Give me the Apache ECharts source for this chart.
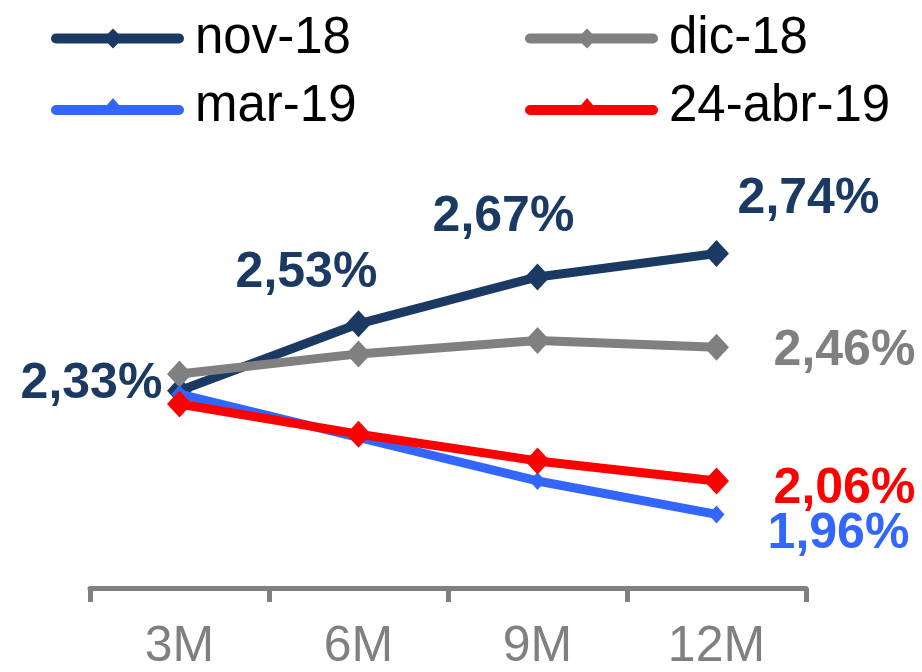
<!DOCTYPE html>
<html>
<head>
<meta charset="utf-8">
<style>
  html, body { margin: 0; padding: 0; background: #ffffff; }
  #chart { width: 922px; height: 672px; }
</style>
<script src="https://cdn.jsdelivr.net/npm/echarts@6/dist/echarts.min.js"></script>
</head>
<body>
<div id="chart"></div>
<script>
// Plazos y tipos (%)
const categories = ['3M', '6M', '9M', '12M'];
const seriesNames = ['nov-18', 'dic-18', 'mar-19', '24-abr-19'];
const nov18 = [2.33, 2.53, 2.67, 2.74];
const dic18 = [2.38, 2.44, 2.48, 2.46];
const mar19 = [2.32, 2.19, 2.06, 1.96];
const abr19 = [2.29, 2.20, 2.12, 2.06];

const FONT = "'Liberation Sans', Arial, sans-serif";
const colors = ['#1b3a63', '#808080', '#3366ff', '#ff0000'];

// legend icons: thick rounded line with a marker on it
const iconDiamond = 'path://M5,5 L57,5 L62,0 L67,5 L128,5 A5,5 0 0 1 128,15 L67,15 L62,20 L57,15 L5,15 A5,5 0 0 1 5,5 Z';
const iconTriangle = 'path://M5,7 L56,7 L62,0 L68,7 L128,7 A5,5 0 0 1 128,17 L5,17 A5,5 0 0 1 5,7 Z';

function fmt(v) {
  return v.toFixed(2).replace('.', ',') + '%';
}

// label offsets per labelled point (series index -> {dataIndex: [dx, dy]})
const labelOffsets = [
  { 0: [-88, -6], 1: [-52, -51], 2: [-34, -60], 3: [92, -54] },
  { 3: [128, 4] },
  { 3: [122, 20] },
  { 3: [128, 8] }
];

const allValues = [nov18, dic18, mar19, abr19];
const symbolSizes = [[25, 27], [25, 27], [16, 18], [25, 27]];

function buildData(values, si) {
  return values.map((v, i) => {
    const off = labelOffsets[si][i];
    if (!off) return v;
    return {
      value: v,
      label: {
        show: true,
        position: 'inside',
        offset: off,
        formatter: p => fmt(p.value),
        color: colors[si],
        fontFamily: FONT,
        fontWeight: 'bold',
        fontSize: 50
      }
    };
  });
}

function legendItem(name, icon, left, top, iconH) {
  return {
    data: [{ name: name, icon: icon }],
    left: left,
    top: top,
    itemWidth: 133,
    itemHeight: iconH,
    itemGap: 0,
    selectedMode: false,
    textStyle: {
      fontFamily: FONT,
      fontSize: 51,
      color: '#000000',
      lineHeight: 50,
      padding: [0, 0, 0, 6]
    }
  };
}

const chart = echarts.init(document.getElementById('chart'), null, { renderer: 'canvas' });

chart.setOption({
  animation: false,
  backgroundColor: '#ffffff',
  color: colors,
  legend: [
    legendItem(seriesNames[0], iconDiamond, 46, 8, 20),
    legendItem(seriesNames[1], iconDiamond, 520, 8, 20),
    legendItem(seriesNames[2], iconTriangle, 46, 76, 17),
    legendItem(seriesNames[3], iconTriangle, 520, 76, 17)
  ],
  grid: {
    left: 90,
    right: 116,
    top: 166.6,
    height: 423.4
  },
  xAxis: {
    type: 'category',
    data: categories,
    boundaryGap: true,
    axisLine: { show: true, lineStyle: { color: '#808080', width: 5 } },
    axisTick: { show: true, length: 14, lineStyle: { color: '#808080', width: 5 } },
    axisLabel: {
      color: '#808080',
      fontFamily: FONT,
      fontSize: 50,
      margin: 34
    },
    splitLine: { show: false }
  },
  yAxis: {
    type: 'value',
    min: 1.74,
    max: 3.0,
    show: false,
    splitLine: { show: false }
  },
  series: allValues.map((vals, si) => ({
    name: seriesNames[si],
    type: 'line',
    data: buildData(vals, si),
    symbol: 'diamond',
    symbolSize: symbolSizes[si],
    showAllSymbol: true,
    lineStyle: { width: 9, color: colors[si] },
    itemStyle: { color: colors[si] },
    label: { show: false },
    emphasis: { disabled: true },
    z: 2 + si
  }))
});
</script>
</body>
</html>
